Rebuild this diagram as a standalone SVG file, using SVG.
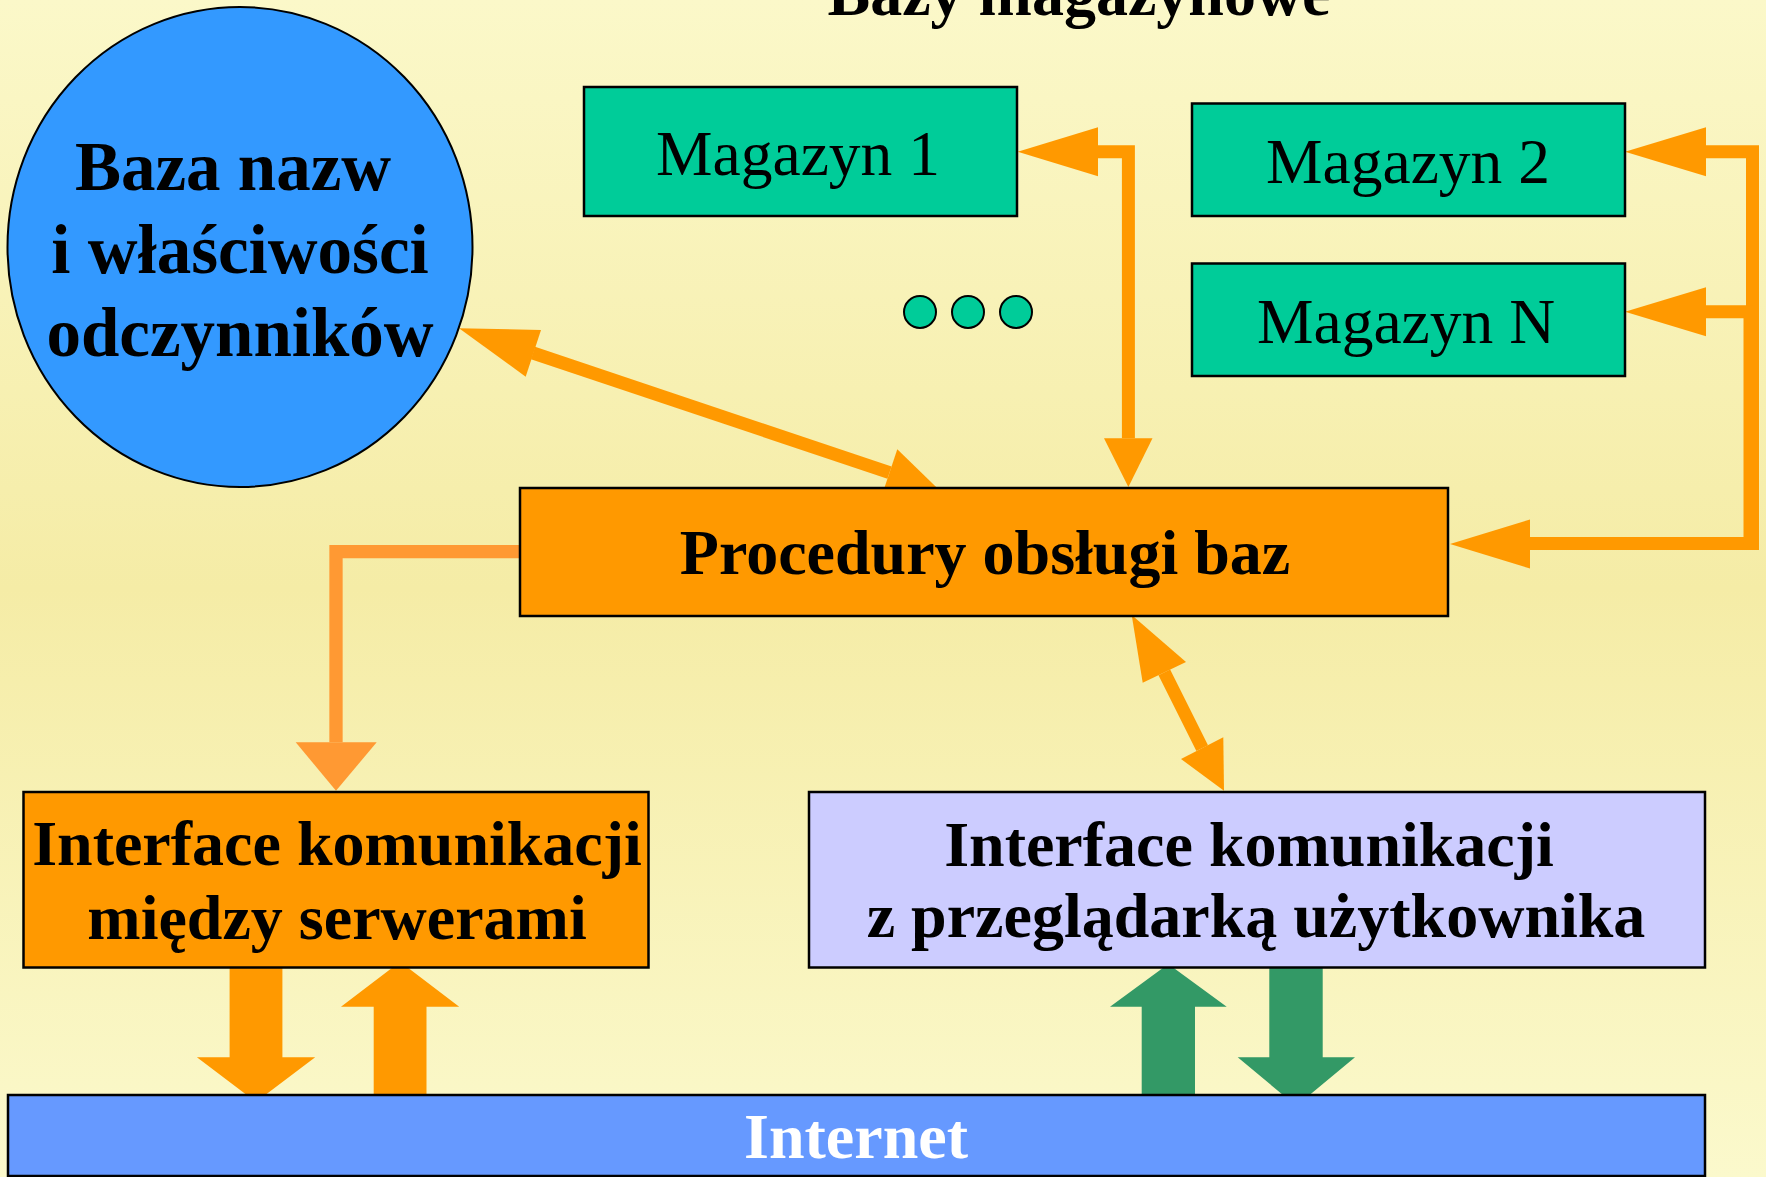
<svg xmlns="http://www.w3.org/2000/svg" width="1766" height="1177" viewBox="0 0 1766 1177">
  <defs>
    <linearGradient id="bg" x1="0" y1="0" x2="0" y2="1">
      <stop offset="0" stop-color="#FBF8C9"/>
      <stop offset="0.5" stop-color="#F5ECA6"/>
      <stop offset="1" stop-color="#FBF9CC"/>
    </linearGradient>
    <style>
      .box { stroke: #000; stroke-width: 2.5; }
      .green { fill: #00CC99; }
      .orange { fill: #FF9900; }
      .lav { fill: #CCCCFF; }
      .net { fill: #6699FF; }
      .bold { font-family: "Liberation Serif", "Times New Roman", serif; font-weight: bold; font-size: 64px; fill: #000; text-anchor: middle; }
      .circ { font-size: 69px; }
      .reg { font-family: "Liberation Serif", "Times New Roman", serif; font-size: 63.5px; fill: #000; text-anchor: middle; }
      .line { fill: none; stroke: #FF9900; stroke-width: 13; stroke-linejoin: miter; }
      .head { fill: #FF9900; }
      .gArrow { fill: #339966; }
    </style>
  </defs>

  <rect x="0" y="0" width="1766" height="1177" fill="url(#bg)"/>

  <text class="bold" x="1079" y="15">Bazy magazynowe</text>

  <g id="connectors">
    <!-- Baza nazw <-> Procedury -->
    <line class="line" x1="533" y1="353" x2="889.5" y2="472.6"/>
    <polygon class="head" points="459,328.3 541,330 525.7,376.7"/>
    <polygon class="head" points="938.2,489 897.3,449.3 881.7,495.9"/>

    <!-- Magazyn 1 <-> Procedury -->
    <polyline class="line" points="1098,151.7 1128.4,151.7 1128.4,438.3"/>
    <polygon class="head" points="1017.7,151.7 1098,127.3 1098,176.3"/>
    <polygon class="head" points="1104,438.3 1152.5,438.3 1128.4,487"/>

    <!-- Bus: Magazyn 2 / Magazyn N / Procedury -->
    <polyline class="line" points="1706,151.7 1752.5,151.7 1752.5,543.5 1530,543.5"/>
    <line class="line" x1="1706" y1="311.7" x2="1752.5" y2="311.7"/>
    <line class="line" x1="1750" y1="318" x2="1750" y2="543.5"/>
    <polygon class="head" points="1625,151.7 1706,127.3 1706,176.3"/>
    <polygon class="head" points="1625,311.7 1706,287.3 1706,336.3"/>
    <polygon class="head" points="1450,544 1530,519.5 1530,568.5"/>

    <!-- Procedury -> Interface między serwerami -->
    <polyline points="520,551.7 336,551.7 336,742.3" fill="none" stroke="#FF9933" stroke-width="13.3" stroke-linejoin="miter"/>
    <polygon points="295.7,742.3 376.7,742.3 336,790.7" fill="#FF9933"/>

    <!-- Procedury <-> Interface z przeglądarką -->
    <line class="line" x1="1164.3" y1="672.3" x2="1202.2" y2="748.2" stroke-width="12"/>
    <polygon class="head" points="1131.7,615 1186,662 1142.7,682.7"/>
    <polygon class="head" points="1224,790.7 1223.3,737.3 1181,759"/>

    <!-- Interface między serwerami <-> Internet -->
    <polygon class="head" points="229.6,960 282.4,960 282.4,1057.3 315.2,1057.3 256,1102 196.9,1057.3 229.6,1057.3"/>
    <polygon class="head" points="373.7,1100 426.5,1100 426.5,1006.7 459.2,1006.7 400.1,961.7 341,1006.7 373.7,1006.7"/>

    <!-- Interface z przeglądarką <-> Internet -->
    <polygon class="gArrow" points="1141.7,1100 1195,1100 1195,1006.7 1226.7,1006.7 1168.3,964 1110,1006.7 1141.7,1006.7"/>
    <polygon class="gArrow" points="1269.3,960 1322.7,960 1322.7,1057.3 1355,1057.3 1296.3,1106 1237.7,1057.3 1269.3,1057.3"/>
  </g>

  <g id="baza-nazw">
    <ellipse cx="240" cy="247" rx="232.5" ry="240" fill="#3399FF" stroke="#000" stroke-width="2"/>
    <text class="bold circ" x="233" y="190">Baza nazw</text>
    <text class="bold circ" x="240" y="273">i właściwości</text>
    <text class="bold circ" x="240" y="356">odczynników</text>
  </g>

  <g id="magazyn-1">
    <rect class="box green" x="584" y="87" width="433" height="129"/>
    <text class="reg" x="798" y="175">Magazyn 1</text>
  </g>

  <g id="dots">
    <circle cx="920" cy="312" r="16" fill="#00CC99" stroke="#000" stroke-width="2"/>
    <circle cx="968" cy="312" r="16" fill="#00CC99" stroke="#000" stroke-width="2"/>
    <circle cx="1016" cy="312" r="16" fill="#00CC99" stroke="#000" stroke-width="2"/>
  </g>

  <g id="magazyn-2">
    <rect class="box green" x="1192" y="103.5" width="433" height="112.5"/>
    <text class="reg" x="1408" y="183">Magazyn 2</text>
  </g>

  <g id="magazyn-n">
    <rect class="box green" x="1192" y="263.5" width="433" height="112.5"/>
    <text class="reg" x="1406" y="343">Magazyn N</text>
  </g>

  <g id="procedury">
    <rect class="box orange" x="520" y="488" width="928" height="128"/>
    <text class="bold" x="985" y="574">Procedury obsługi baz</text>
  </g>

  <g id="interface-serwery">
    <rect class="box orange" x="23.5" y="792" width="625" height="175.5"/>
    <text class="bold" x="337" y="865">Interface komunikacji</text>
    <text class="bold" x="337" y="939">między serwerami</text>
  </g>

  <g id="interface-przegladarka">
    <rect class="box lav" x="809" y="792" width="896" height="175.5"/>
    <text class="bold" x="1249" y="866">Interface komunikacji</text>
    <text class="bold" x="1256" y="937">z przeglądarką użytkownika</text>
  </g>

  <g id="internet">
    <rect class="box net" x="8" y="1095" width="1697" height="81"/>
    <text class="bold" x="856" y="1158" style="fill:#fff">Internet</text>
  </g>
</svg>
